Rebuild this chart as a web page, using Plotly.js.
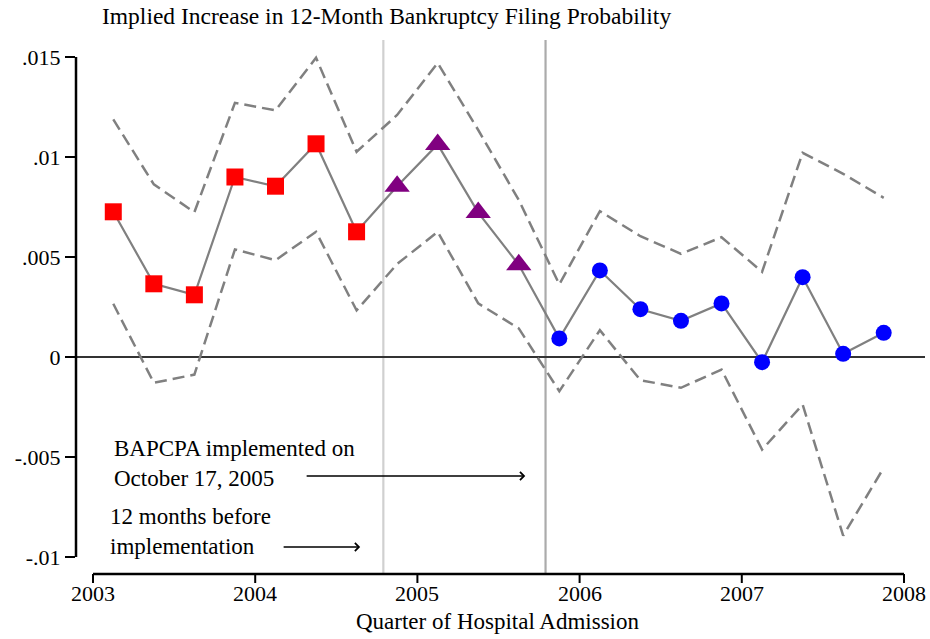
<!DOCTYPE html>
<html>
<head>
<meta charset="utf-8">
<script src="https://cdn.plot.ly/plotly-3.0.1.min.js"></script>
<style>html,body{margin:0;padding:0;background:#fff;}#chart{width:930px;height:639px;}</style>
</head>
<body>
<div id="chart"></div>
<script>
// Quarter midpoints (year + fraction)
var quarters = [2003.125, 2003.375, 2003.625, 2003.875,
                2004.125, 2004.375, 2004.625, 2004.875,
                2005.125, 2005.375, 2005.625, 2005.875,
                2006.125, 2006.375, 2006.625, 2006.875,
                2007.125, 2007.375, 2007.625, 2007.875];
var estimate = [0.00726, 0.00366, 0.00311, 0.00900,
                0.00854, 0.01066, 0.00626, 0.00854,
                0.01063, 0.00722, 0.00461, 0.00093,
                0.00433, 0.00239, 0.00181, 0.00268,
                -0.00026, 0.00399, 0.00016, 0.00121];
var upperCI = [0.01188, 0.00863, 0.00724, 0.01271,
               0.01233, 0.01496, 0.01026, 0.01210,
               0.01470, 0.01135, 0.00785, 0.00363,
               0.00729, 0.00604, 0.00516, 0.00599,
               0.00426, 0.01021, 0.00916, 0.00796];
var lowerCI = [0.00266, -0.00129, -0.00088, 0.00538,
               0.00484, 0.00626, 0.00233, 0.00465,
               0.00626, 0.00268, 0.00143, -0.00171,
               0.00134, -0.00116, -0.00154, -0.00063,
               -0.00463, -0.00238, -0.00893, -0.00554];
// period of each quarter: 0 = before window, 1 = 12 months before BAPCPA, 2 = after
var period = [0,0,0,0,0,0,0,1,1,1,1,2,2,2,2,2,2,2,2,2];
var refLines = [2004.79, 2005.79];
var yTickVals = [-0.01, -0.005, 0, 0.005, 0.01, 0.015];
var yTickText = ["-.01", "-.005", "0", ".005", ".01", ".015"];
var xTickVals = [2003, 2004, 2005, 2006, 2007, 2008];
var xTickText = ["2003", "2004", "2005", "2006", "2007", "2008"];

function pick(arr, p) { return arr.filter(function (v, i) { return period[i] === p; }); }

var FONT = "Liberation Serif";
var gray = "#808080";

var traces = [
  {x: quarters, y: upperCI, mode: "lines", line: {color: gray, width: 2.5, dash: "12px,6px"}, hoverinfo: "skip"},
  {x: quarters, y: lowerCI, mode: "lines", line: {color: gray, width: 2.5, dash: "12px,6px"}, hoverinfo: "skip"},
  {x: quarters, y: estimate, mode: "lines", line: {color: gray, width: 2.2}},
  {x: pick(quarters, 0), y: pick(estimate, 0), mode: "markers", marker: {symbol: "square", color: "#ff0000", size: 17}},
  {x: pick(quarters, 1), y: pick(estimate, 1), mode: "markers", marker: {symbol: "triangle-up", color: "#800080", size: 22}},
  {x: pick(quarters, 2), y: pick(estimate, 2), mode: "markers", marker: {symbol: "circle", color: "#0000ff", size: 16}}
];

var pxPerYear = 162.1;
var plotH = 639 - 40 - 65;
var shapes = [
  {type: "line", xref: "x", yref: "paper", x0: refLines[0], x1: refLines[0], y0: 0, y1: 1, line: {color: "#d0d0d0", width: 2.2}, layer: "below"},
  {type: "line", xref: "x", yref: "paper", x0: refLines[1], x1: refLines[1], y0: 0, y1: 1, line: {color: "#ababab", width: 2.2}, layer: "below"},
  {type: "line", xref: "paper", yref: "y", x0: 0, x1: 1, y0: 0, y1: 0, line: {color: "#333", width: 2}, layer: "below"},
  {type: "line", xref: "paper", yref: "y", x0: 0, x1: 0, y0: -0.01, y1: 0.015, line: {color: "#000", width: 2.5}},
  {type: "line", xref: "x", yref: "paper", x0: 2003, x1: 2008, y0: 0, y1: 0, line: {color: "#000", width: 2.5}}
];
var annotations = [
  {text: "Implied Increase in 12-Month Bankruptcy Filing Probability", xref: "paper", yref: "paper",
   x: 24 / 849, y: 1, yshift: 24, xanchor: "left", yanchor: "middle", showarrow: false,
   font: {family: FONT, size: 23.5, color: "#000"}},
  {text: "Quarter of Hospital Admission", xref: "paper", yref: "paper",
   x: (497 - 76) / 849, y: 0, yshift: -47, xanchor: "center", yanchor: "middle", showarrow: false,
   font: {family: FONT, size: 23, color: "#000"}},
  {text: "BAPCPA implemented on<br>October 17, 2005", xref: "x", yref: "y",
   x: 2003 + 19 / pxPerYear, y: -0.0053, xanchor: "left", yanchor: "middle", align: "left", showarrow: false,
   font: {family: FONT, size: 23, color: "#000"}},
  {text: "12 months before<br>implementation", xref: "x", yref: "y",
   x: 2003 + 15 / pxPerYear, y: -0.0087, xanchor: "left", yanchor: "middle", align: "left", showarrow: false,
   font: {family: FONT, size: 23, color: "#000"}},
  {text: "", xref: "x", yref: "y", axref: "x", ayref: "y",
   x: 2003 + 432 / pxPerYear, y: -0.00595, ax: 2003 + 212 / pxPerYear, ay: -0.00595,
   showarrow: true, arrowhead: 4, arrowsize: 1.2, arrowwidth: 1.3, arrowcolor: "#000", standoff: 0, startstandoff: 0},
  {text: "", xref: "x", yref: "y", axref: "x", ayref: "y",
   x: 2003 + 267 / pxPerYear, y: -0.0095, ax: 2003 + 189 / pxPerYear, ay: -0.0095,
   showarrow: true, arrowhead: 4, arrowsize: 1.2, arrowwidth: 1.3, arrowcolor: "#000", standoff: 0, startstandoff: 0}
];
// x tick marks and labels at the tick values
xTickVals.forEach(function (v, i) {
  shapes.push({type: "line", xref: "x", yref: "paper", x0: v, x1: v, y0: 0, y1: -9 / plotH, line: {color: "#000", width: 2}});
  annotations.push({text: xTickText[i], xref: "x", yref: "paper", x: v, y: 0, yshift: -19,
    xanchor: "center", yanchor: "middle", showarrow: false, font: {family: FONT, size: 22, color: "#000"}});
});

var layout = {
  width: 930, height: 639,
  margin: {l: 76, r: 5, t: 40, b: 65},
  paper_bgcolor: "#fff", plot_bgcolor: "#fff",
  showlegend: false,
  font: {family: FONT, size: 22, color: "#000"},
  xaxis: {
    range: [2003 - 17 / pxPerYear, 2008 + 21 / pxPerYear],
    showticklabels: false, ticks: "",
    showgrid: false, zeroline: false, showline: false
  },
  yaxis: {
    range: [-0.01085, 0.01585],
    tickvals: yTickVals, ticktext: yTickText,
    ticks: "outside", ticklen: 10, tickwidth: 2, tickcolor: "#000",
    showgrid: false, zeroline: false, showline: false,
    tickfont: {family: FONT, size: 22, color: "#000"}
  },
  shapes: shapes,
  annotations: annotations
};

Plotly.newPlot("chart", traces, layout, {displayModeBar: false, staticPlot: true});
</script>
</body>
</html>
